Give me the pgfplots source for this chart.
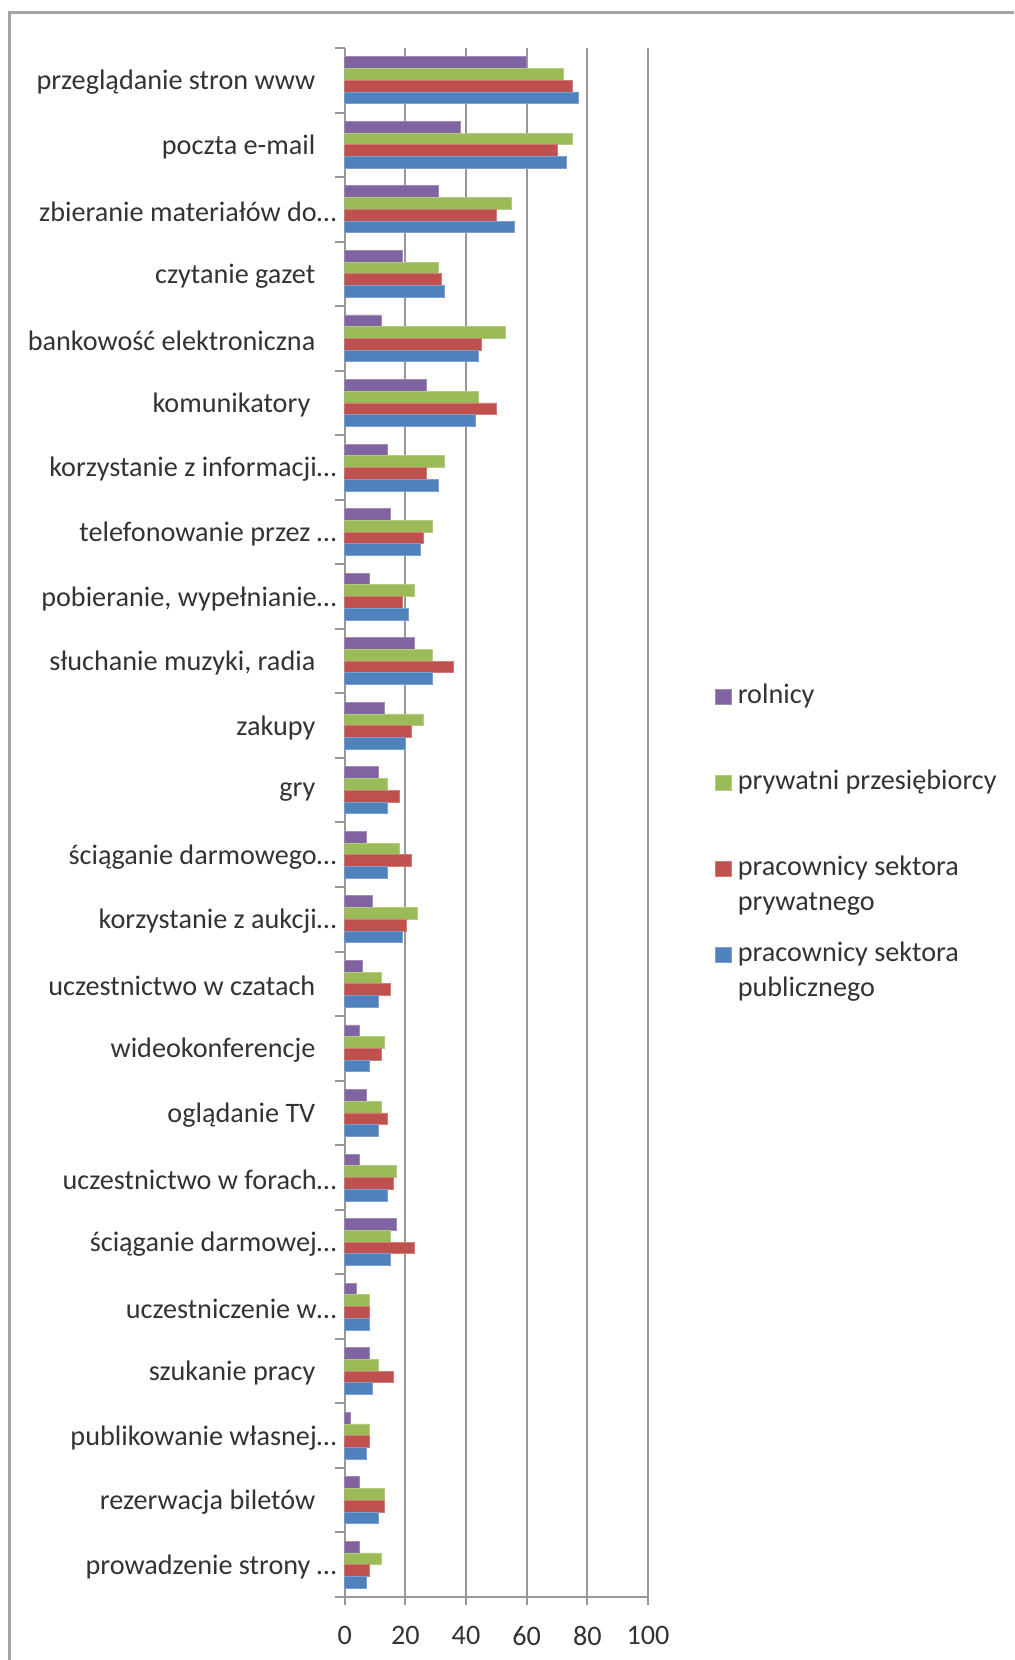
\documentclass[border=0pt]{standalone}
\usepackage{fontspec}
\setmainfont{Carlito}
\usepackage{pgfplots}
\pgfplotsset{compat=1.18}
\usepackage{pgfplotstable}
\definecolor{cpurple}{HTML}{8064A2}
\definecolor{cgreen}{HTML}{9BBB59}
\definecolor{cred}{HTML}{C0504D}
\definecolor{cblue}{HTML}{4F81BD}
\definecolor{cgrid}{HTML}{979797}
\definecolor{ctext}{HTML}{333333}
\definecolor{cframe}{HTML}{A6A6A6}
\newcommand\mysize{\fontsize{14.1}{17.5}\selectfont}
\newcommand\pad{\hspace*{10.5pt}}
\newcommand\twol[2]{\vtop{\baselineskip=17.5pt\hbox{#1}\hbox{#2}}}
\pgfplotsset{sqleg/.style={legend image code/.code={\path[##1] (0pt,-0.6pt) rectangle (8pt,6.9pt);}}}
\pgfplotstableread{
y  rol  prz  ppr  ppu
23 60 72 75 77
22 38 75 70 73
21 31 55 50 56
20 19 31 32 33
19 12 53 45 44
18 27 44 50 43
17 14 33 27 31
16 15 29 26 25
15 8 23 19 21
14 23 29 36 29
13 13 26 22 20
12 11 14 18 14
11 7 18 22 14
10 9 24 20.5 19
9 6 12 15 11
8 5 13 12 8
7 7 12 14 11
6 5 17 16 14
5 17 15 23 15
4 4 8 8 8
3 8 11 16 9
2 2 8 8 7
1 5 13 13 11
0 5 12 8 7
}\datatable
\begin{document}
\begin{tikzpicture}
\useasboundingbox (0,0) rectangle (507pt,830pt);
\draw[cframe, line width=1.5pt] (4.75pt,0) -- (4.75pt,823.75pt) -- (507pt,823.75pt);
\begin{axis}[
  at={(172.35pt,31.5pt)}, anchor=south west,
  scale only axis, width=151.65pt, height=774.5pt,
  xmin=0, xmax=100, ymin=-0.5, ymax=23.5,
  xbar, bar width=0.1818,
  axis lines*=left,
  axis line style={cgrid, line width=1pt},
  xmajorgrids, grid style={cgrid, line width=1pt},
  xtick={0,20,...,100},
  ytick={0,...,23},
  minor ytick={-0.5,0.5,...,23.5},
  yticklabels={
    {prowadzenie strony …},
    {rezerwacja biletów\pad},
    {publikowanie własnej…},
    {szukanie pracy\pad},
    {uczestniczenie w…},
    {ściąganie darmowej…},
    {uczestnictwo w forach…},
    {oglądanie TV\pad},
    {wideokonferencje\pad},
    {uczestnictwo w czatach\pad},
    {korzystanie z aukcji…},
    {ściąganie darmowego…},
    {gry\pad},
    {zakupy\pad},
    {słuchanie muzyki, radia\pad},
    {pobieranie, wypełnianie…},
    {telefonowanie przez …},
    {korzystanie z informacji…},
    {komunikatory\hspace*{13pt}},
    {bankowość elektroniczna\pad},
    {czytanie gazet\pad},
    {zbieranie materiałów do…},
    {poczta e-mail\pad},
    {przeglądanie stron www\pad}},
  tick align=outside,
  major tick length=4pt, minor tick length=5pt,
  major x tick style={cgrid, line width=1pt},
  major y tick style={draw=none},
  minor y tick style={cgrid, line width=1pt},
  tick label style={font=\mysize, text=ctext},
  /pgf/number format/assume math mode=true,
  yticklabel style={anchor=east, inner sep=0pt, yshift=-1pt},
  xticklabel style={inner sep=0pt, yshift=-10.5pt},
  legend style={at={(1.2209,0.5899)}, anchor=north west, draw=none, fill=none,
    inner sep=0pt, outer sep=0pt, row sep=0pt, column sep=3pt,
    font=\mysize, text=ctext,
    cells={anchor=base west},
    nodes={inner sep=0pt, text height=10pt, text depth=33pt}},
]
\addplot[fill=cpurple, draw=cpurple!75!white, line width=0.4pt, bar shift=0.2727, sqleg]
  table[x=rol, y=y]{\datatable};
\addlegendentry{rolnicy}
\addplot[fill=cgreen, draw=cgreen!75!white, line width=0.4pt, bar shift=0.0909, sqleg]
  table[x=prz, y=y]{\datatable};
\addlegendentry{prywatni przesiębiorcy}
\addplot[fill=cred, draw=cred!75!white, line width=0.4pt, bar shift=-0.0909, sqleg]
  table[x=ppr, y=y]{\datatable};
\addlegendentry{\twol{pracownicy sektora}{prywatnego}}
\addplot[fill=cblue, draw=cblue!75!white, line width=0.4pt, bar shift=-0.2727, sqleg]
  table[x=ppu, y=y]{\datatable};
\addlegendentry{\twol{pracownicy sektora}{publicznego}}
\end{axis}
\end{tikzpicture}
\end{document}
